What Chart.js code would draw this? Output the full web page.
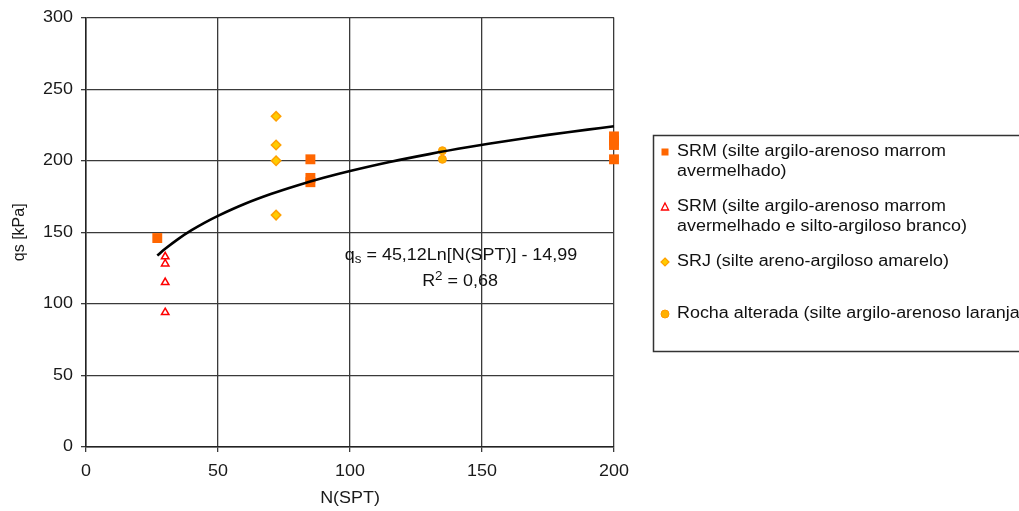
<!DOCTYPE html>
<html><head><meta charset="utf-8">
<script src="https://cdn.jsdelivr.net/npm/chart.js@4.4.1/dist/chart.umd.min.js"></script>
<style>html,body{margin:0;padding:0;background:#fff;overflow:hidden}#wrap{width:1019px;height:511px;position:relative}</style>
</head><body><div id="wrap"><canvas id="c" width="1019" height="511"></canvas></div>
<script>
// ---- data ----
const srmN = [27, 85, 85, 85, 200, 200, 200, 200];
const srmQ = [146, 201, 188, 185, 217, 214, 211, 201];
const srmBN = [30, 30, 30, 30];
const srmBQ = [133, 128, 115, 94];
const srjN = [72, 72, 72, 72];
const srjQ = [231, 211, 200, 162];
const rochaN = [135, 135];
const rochaQ = [207, 201];
// trendline printed on the chart: qs = 45,12 Ln[N(SPT)] - 14,99
const trendA = 45.12, trendB = -14.99;
const trendN = [27, 30, 35, 40, 45, 50, 60, 70, 80, 90, 100, 115, 130, 145, 160, 175, 190, 200];
const xTicks = [0, 50, 100, 150, 200];
const yTicks = [0, 50, 100, 150, 200, 250, 300];
const legendLabels = [
  ["SRM (silte argilo-arenoso marrom", "avermelhado)"],
  ["SRM (silte argilo-arenoso marrom", "avermelhado e silto-argiloso branco)"],
  ["SRJ (silte areno-argiloso amarelo)"],
  ["Rocha alterada (silte argilo-arenoso laranja)"]
];
const eqLine1 = ["q", "s", " = 45,12Ln[N(SPT)] - 14,99"];
const eqLine2 = ["R", "2", " = 0,68"];

const FONT = '"Liberation Sans", Arial, sans-serif';
const FS = 16;      // font size
const SX = 1.12;    // the reference text is slightly stretched horizontally
const pts = (xs, ys) => xs.map((x, i) => ({x, y: ys[i]}));

const canvas = document.getElementById('c');
const c2d = canvas.getContext('2d');
const origFill = c2d.fillText;
c2d.fillText = function (t, x, y, maxW) {
  const m = this.getTransform();
  if (Math.abs(m.b) > 1e-6 || Math.abs(m.c) > 1e-6) {
    return maxW === undefined ? origFill.call(this, t, x, y) : origFill.call(this, t, x, y, maxW);
  }
  this.save();
  this.translate(x, y);
  this.scale(SX, 1);
  origFill.call(this, t, 0, 0);
  this.restore();
};

const overlay = {
  id: 'overlay',
  afterDraw(chart) {
    const ctx = chart.ctx;
    ctx.save();
    ctx.fillStyle = '#111';
    ctx.textBaseline = 'middle';
    const drawSub = (parts, cx, cy, sup) => {
      ctx.font = FS + 'px ' + FONT;
      const w1 = ctx.measureText(parts[0]).width * SX;
      ctx.font = '12px ' + FONT;
      const w2 = ctx.measureText(parts[1]).width * SX;
      ctx.font = FS + 'px ' + FONT;
      const w3 = ctx.measureText(parts[2]).width * SX;
      let x = cx - (w1 + w2 + w3) / 2;
      ctx.textAlign = 'left';
      ctx.fillText(parts[0], x, cy); x += w1;
      ctx.font = '12px ' + FONT;
      ctx.fillText(parts[1], x, cy + (sup ? -5 : 4)); x += w2;
      ctx.font = FS + 'px ' + FONT;
      ctx.fillText(parts[2], x, cy);
    };
    drawSub(eqLine1, 461, 256, false);
    drawSub(eqLine2, 460, 282, true);

    // legend box
    ctx.strokeStyle = '#333';
    ctx.lineWidth = 1.5;
    ctx.strokeRect(653.5, 135.5, 400, 216);
    const rows = [[152, 172], [207, 227], [262], [314]];
    ctx.font = FS + 'px ' + FONT;
    ctx.textAlign = 'left';
    ctx.fillStyle = '#111';
    legendLabels.forEach((lines, i) => {
      lines.forEach((t, j) => ctx.fillText(t, 677, rows[i][j]));
    });
    const mx = 665;
    ctx.fillStyle = '#FF6600';
    ctx.fillRect(mx - 3.5, 152 - 3.5, 7, 7);
    ctx.beginPath();
    ctx.moveTo(mx, 203); ctx.lineTo(mx + 3.6, 210); ctx.lineTo(mx - 3.6, 210); ctx.closePath();
    ctx.fillStyle = '#fff'; ctx.fill();
    ctx.strokeStyle = '#FF0000'; ctx.lineWidth = 1.3; ctx.stroke();
    ctx.beginPath();
    ctx.moveTo(mx, 258); ctx.lineTo(mx + 4, 262); ctx.lineTo(mx, 266); ctx.lineTo(mx - 4, 262); ctx.closePath();
    ctx.fillStyle = '#FFCC00'; ctx.fill();
    ctx.strokeStyle = '#FFA000'; ctx.lineWidth = 1.2; ctx.stroke();
    ctx.beginPath();
    ctx.arc(mx, 314, 4, 0, Math.PI * 2);
    ctx.fillStyle = '#FFB000'; ctx.fill();
    ctx.strokeStyle = '#FF9900'; ctx.lineWidth = 1; ctx.stroke();
    ctx.restore();
  }
};

new Chart(canvas, {
  type: 'scatter',
  data: {
    datasets: [
      {
        label: 'trend', type: 'line', order: 0, clip: false,
        data: trendN.map(n => ({x: n, y: trendA * Math.log(n) + trendB})),
        borderColor: '#000', borderWidth: 2.6, pointRadius: 0, fill: false, tension: 0.3
      },
      {
        label: legendLabels[0].join(' '), order: 1, clip: false, data: pts(srmN, srmQ),
        pointStyle: 'rect', pointRadius: 7, backgroundColor: '#FF6600', borderColor: '#FF6600', borderWidth: 0
      },
      {
        label: legendLabels[1].join(' '), order: 1, clip: false, data: pts(srmBN, srmBQ),
        pointStyle: 'triangle', pointRadius: 4.3, backgroundColor: '#fff', borderColor: '#FF0000', borderWidth: 1.5
      },
      {
        label: legendLabels[2][0], order: 1, clip: false, data: pts(srjN, srjQ),
        pointStyle: 'rectRot', pointRadius: 4.7, backgroundColor: '#FFCC00', borderColor: '#FFA000', borderWidth: 1.5
      },
      {
        label: legendLabels[3][0], order: 1, clip: false, data: pts(rochaN, rochaQ),
        pointStyle: 'circle', pointRadius: 4, backgroundColor: '#FFB000', borderColor: '#FF9900', borderWidth: 1
      }
    ]
  },
  options: {
    responsive: false,
    animation: false,
    events: [],
    layout: {padding: {left: 0, right: 405, top: 17, bottom: 0}},
    plugins: {legend: {display: false}, tooltip: {enabled: false}},
    scales: {
      x: {
        type: 'linear', min: 0, max: 200,
        afterBuildTicks: s => { s.ticks = xTicks.map(v => ({value: v})); },
        afterFit: s => { s.height = 64; },
        grid: {color: '#3a3a3a', lineWidth: 1.3, tickLength: 5, tickColor: '#3a3a3a', drawTicks: true},
        border: {color: '#222', width: 1.5},
        ticks: {color: '#1a1a1a', font: {family: FONT, size: FS}, padding: 10, maxRotation: 0},
        title: {display: true, text: 'N(SPT)', color: '#1a1a1a', font: {family: FONT, size: FS}, padding: {top: 0, bottom: 3}}
      },
      y: {
        type: 'linear', min: 0, max: 300,
        afterBuildTicks: s => { s.ticks = yTicks.map(v => ({value: v})); },
        afterFit: s => { s.width = 86; },
        grid: {color: '#3a3a3a', lineWidth: 1.3, tickLength: 5, tickColor: '#3a3a3a', drawTicks: true},
        border: {color: '#222', width: 1.5},
        ticks: {color: '#1a1a1a', font: {family: FONT, size: FS}, padding: 8},
        title: {display: true, text: 'qs [kPa]', color: '#1a1a1a', font: {family: FONT, size: FS}, padding: {top: 10, bottom: 0}}
      }
    }
  },
  plugins: [overlay]
});
</script>
</body></html>
